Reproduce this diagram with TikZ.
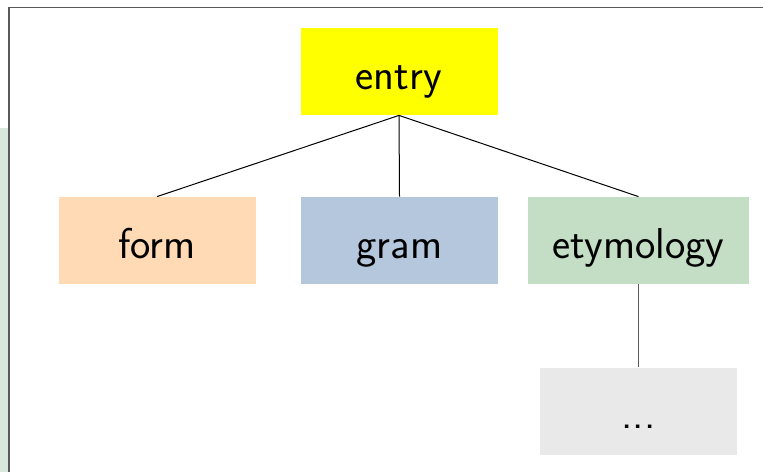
\documentclass[tikz,border=0pt]{standalone}
\usepackage{tikz}
\begin{document}
\begin{tikzpicture}[x=0.5pt,y=-0.5pt,
  box/.style={draw=none,minimum width=98.5pt,minimum height=43.5pt,inner sep=0pt,
    text height=19pt,text depth=1.5pt,font=\sffamily\fontsize{21.6}{26}\selectfont},
  link/.style={black,line width=0.5pt}]
\useasboundingbox (0,0) rectangle (763,472);
\fill[white] (0,0) rectangle (763,472);
\definecolor{stripc}{RGB}{217,232,220}
\fill[stripc] (0,128) rectangle (9,472);
\draw[gray!70!black,line width=0.8pt] (9,472) -- (9,7.5) -- (763,7.5);
\definecolor{entryc}{RGB}{255,255,0}
\definecolor{formc}{RGB}{255,218,181}
\definecolor{gramc}{RGB}{180,199,221}
\definecolor{etymc}{RGB}{196,222,198}
\definecolor{morec}{RGB}{233,233,233}
\node[box,fill=entryc] (entry) at (399,71.5) {entry};
\node[box,fill=formc] (form) at (157,240.5) {form};
\node[box,fill=gramc] (gram) at (399.5,240.5) {gram};
\node[box,fill=etymc,minimum width=110.5pt] (etym) at (638.5,240.5) {etymology};
\node[box,fill=morec] (more) at (638.5,411) {...};
\draw[link] (entry.south) -- (form.north);
\draw[link] (entry.south) -- (gram.north);
\draw[link] (entry.south) -- (etym.north);
\draw[link,gray!70!black] (etym.south) -- (more.north);
\end{tikzpicture}
\end{document}
